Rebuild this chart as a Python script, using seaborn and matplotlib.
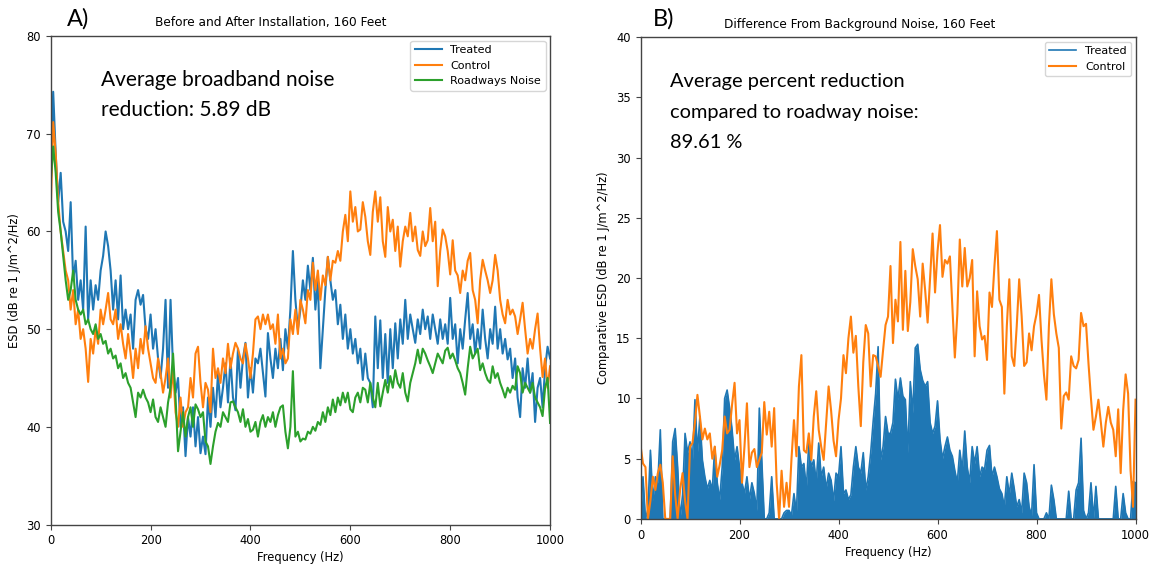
import numpy as np
import pandas as pd
import matplotlib
matplotlib.use("Agg")
import matplotlib.pyplot as plt
import seaborn as sns

# Frequency grid (Hz), 5 Hz spacing
freq = np.arange(0, 1001, 5)

# Panel A: ESD at 160 ft (dB re 1 J/m^2/Hz)
treated = [
    65, 74.3, 68, 63, 66, 61, 60, 58, 63, 55, 57, 53, 55, 52, 60.5, 51, 55, 52, 54.5, 53,
    56, 57.5, 60, 58.5, 56, 52, 55, 51, 55.5, 50, 52, 50, 51.5, 48, 53, 54, 52.5, 53.5, 50, 49,
    51.5, 48, 50, 47, 45, 48, 53, 44, 53, 46, 43.5, 45, 40, 42, 37, 41, 39, 42, 38, 41,
    37.3, 39, 37.2, 43, 40, 44, 41, 45.5, 42, 44, 46.5, 42.5, 47, 43, 41.7, 48, 44, 47, 48.6, 43,
    46, 43.5, 47, 46.5, 48, 45.5, 43.1, 49.6, 47, 45, 48, 46, 49, 45.8, 50, 48, 52, 58, 53, 50,
    52, 55, 53, 56.5, 54, 57.3, 52, 55, 46, 50, 54, 57.4, 55, 53, 54, 50.5, 52.5, 49, 51.5, 48,
    50, 47.5, 49, 46.5, 48, 44.8, 47.5, 45, 44.5, 42, 51.3, 46, 50.9, 45, 49.5, 44.5, 50, 46, 50.6, 47,
    51, 48.5, 53, 49, 51.5, 50, 48.6, 51, 49.5, 52, 50, 51.3, 49, 51.5, 50, 48.5, 51, 49, 50.5, 48.5,
    53.2, 49, 50.5, 46.5, 50, 48, 51, 53.7, 49, 50.5, 47.5, 50, 48, 52, 49, 47, 50, 48.5, 52.3, 48,
    50, 47.5, 49, 46.9, 48, 45, 47, 43, 41, 46, 44, 47, 43.5, 45.5, 40.5, 44, 45, 42, 46, 48.2,
    47,
]
control = [
    62, 71.2, 68, 63, 60, 58, 56, 55, 52, 54, 50.5, 52, 49, 50, 48, 44.6, 49, 47.5, 50, 48.5,
    52, 50.5, 52, 53.7, 51, 50.5, 52, 49, 50.5, 48.5, 47, 49.5, 47.5, 45, 48, 46, 49, 47.5, 50.3, 48,
    46.5, 45, 44.5, 47, 45.5, 43.5, 45, 47, 43, 46, 41.5, 40, 43, 40, 41.5, 42, 45, 43, 47.5, 48.2,
    44.5, 42, 44.5, 43.8, 41.5, 48, 45, 46, 44.5, 47, 45.5, 48.5, 46, 47.5, 48.6, 48, 47, 46.5, 48.5, 47,
    45, 47.5, 51, 51.3, 50, 51.5, 50.5, 51.5, 50, 50.5, 48.5, 51.5, 47, 48, 46.5, 47, 51, 49.5, 52, 49.5,
    53, 52, 50.6, 54, 53, 56.8, 54, 56, 53, 55.5, 54.5, 57.4, 55, 57, 56.8, 58, 57, 60, 61.7, 59,
    64.1, 61, 62.5, 60, 60.2, 63, 61.5, 59, 57.6, 62, 64.1, 61, 63.5, 59, 57.4, 62.5, 60, 61.2, 58, 60.5,
    56.4, 59, 60.5, 59.5, 61.9, 59, 60.5, 58.1, 57.5, 60, 58.5, 59.1, 62.4, 59, 61, 54.4, 58, 60.2, 59.5, 58,
    55.6, 59.1, 56, 55.5, 53.7, 56, 55, 57, 57.8, 54, 53, 50.6, 55, 57.1, 56, 55, 53.7, 55, 57.6, 56,
    53, 51.5, 50.6, 53, 51.5, 52, 51.3, 49.5, 51, 52.7, 50, 47.5, 49, 48, 50, 51.6, 48, 45.1, 47, 44,
    46.2,
]
roadway = [
    65, 68.7, 66, 62, 60, 57.5, 55, 53, 54, 56, 53, 52, 51.5, 52, 50.5, 51, 50, 49.5, 50.5, 49,
    49.5, 48.5, 48.8, 47.5, 48, 47, 47.3, 46, 46.5, 45, 45.5, 44.5, 44, 42.5, 41, 43.5, 43, 43.8, 43, 42.5,
    41.5, 42.8, 41, 40.5, 42, 41, 40, 42.5, 44, 47.5, 43, 37.5, 39.5, 41.5, 39, 41, 42, 40, 42.3, 41.8,
    41, 41.5, 38.5, 38, 36.2, 38, 39.5, 40.4, 40, 41.5, 41, 40.5, 42.5, 42.6, 42, 41.5, 40.5, 41.8, 40, 40.8,
    39.5, 39.7, 40.5, 39, 40.5, 41.2, 40, 41, 40.5, 41.5, 40, 41.2, 42, 42.2, 39.5, 37.8, 40, 45.7, 39, 39.5,
    38.5, 38.8, 38.7, 39.5, 39.3, 40, 39.6, 40.5, 40.2, 41.5, 40.5, 42, 41.2, 42.8, 41.5, 43, 42.2, 43.5, 42.5, 43.5,
    41.8, 41.5, 43, 43.5, 42.5, 44, 43.8, 42.5, 44.5, 43, 42, 44.5, 42.1, 43.5, 44.8, 43.5, 45.2, 44, 45.8, 44.5,
    44, 45.5, 43.5, 42.6, 44.5, 45.5, 46.5, 47.9, 46.5, 48, 47.5, 46.8, 46.2, 45.5, 46.5, 47.5, 47, 46.5, 47.8, 48.1,
    47, 47.5, 46.8, 46, 45.5, 44.5, 43.3, 46, 48.2, 47, 47.5, 48, 45.8, 46.5, 45.5, 44.8, 44.5, 46.2, 45, 45.5,
    44.5, 43.8, 43, 44, 43.5, 44.2, 43.8, 46.2, 45.5, 43.5, 44.5, 44, 43.5, 44.5, 43, 42.5, 42, 41.1, 44, 45,
    40.4,
]

# Panel B: level above roadway background (dB)
treated_diff = [
    0, 3.5, 0, 0.8, 5.7, 1.5, 3.5, 3, 7.4, 0, 0, 0, 0, 6.4, 7.5, 4.3, 0, 2, 7.1, 5.5,
    6.4, 4.9, 9.9, 5.5, 8.5, 4.9, 3.5, 2.5, 3.2, 2.4, 6, 3, 1.6, 4.3, 10, 10.7, 9.2, 7.4, 4.9, 6,
    4.3, 3, 2.1, 3.5, 1.6, 3, 2.1, 0.7, 9.2, 4.9, 0, 0, 0.5, 3.5, 0, 0, 0, 0, 0.5, 0.7,
    0.7, 0.3, 2.1, 0.5, 6, 4.3, 4.6, 2.5, 6.3, 4.3, 4.9, 3, 6.3, 3.5, 4.3, 2.5, 3.8, 3.2, 1.5, 3.8,
    3.5, 6, 2.1, 2.4, 1.6, 2, 4.3, 6, 4.3, 3.8, 5.5, 2.4, 3.5, 5.5, 8.1, 10.4, 14.3, 4.9, 6, 8.5,
    7.1, 7.1, 8, 11.6, 9.9, 11.7, 10.2, 9.9, 5.5, 11.4, 8.8, 14.2, 14.5, 12.4, 11.5, 11, 11.4, 8, 7.1, 7.7,
    9.8, 6.6, 5, 6, 6.8, 5.7, 5.2, 4, 3, 5.7, 4, 7.3, 4.3, 3, 6, 4.6, 6, 3.5, 4.3, 4.1,
    5.7, 6.1, 3.5, 4.3, 3.5, 2.5, 2.1, 1, 3.5, 2, 3.8, 2.5, 1, 1.6, 0.5, 3.8, 3, 1, 0.3, 4.5,
    0.5, 0, 0, 0, 0.5, 0, 2.8, 1.6, 0, 0, 0, 0, 0, 2.3, 0, 0, 2.4, 3, 6.7, 0.7,
    0, 0.5, 3, 0, 2.7, 0, 0, 0, 0, 0, 0, 0, 2.7, 0, 0, 2.1, 0.5, 0, 0, 3.1,
    3,
]
control_diff = [
    6.1, 4.6, 4.3, 0, 1.5, 3.5, 2.4, 3.8, 4.5, 3, 0, 0, 0, 5.2, 2, 0, 2.4, 3.8, 1.5, 0,
    6, 6.3, 8, 10.3, 8.5, 6.6, 7.5, 6.6, 7.1, 5, 6, 3.5, 4.5, 5.7, 8.5, 7.1, 7.4, 9.5, 11.3, 7.1,
    8.2, 3, 6, 9.6, 4.3, 5.5, 5.8, 4.3, 4.9, 5.5, 9.7, 7, 8.9, 6, 9.2, 3, 0, 4, 1, 3,
    1, 5, 8.2, 5.2, 11, 13.6, 5.7, 5.5, 7.1, 4.9, 8.5, 10.6, 7.4, 6, 4.9, 8, 11, 9, 6.5, 5.2,
    8.2, 10, 13.6, 12.1, 15, 16.8, 13.8, 15.2, 11, 7.7, 13, 16.1, 15.4, 11, 13.6, 13.5, 12.7, 11.8, 14, 16.1,
    16.8, 21, 14.6, 18.2, 16.4, 23, 15.7, 20.6, 15.6, 18, 22.4, 21, 19.9, 16.8, 21.2, 19, 16.3, 20, 23.7, 18.8,
    22.2, 24.4, 20.1, 21.5, 21.2, 21.8, 17.6, 13.4, 17, 23.2, 19.3, 22.5, 19.3, 20, 21.5, 13.5, 18.9, 16, 14.9, 15.2,
    13.2, 18.8, 17.6, 21, 23.9, 18.2, 17.6, 10.4, 16, 19.9, 13.5, 12.7, 16, 19.9, 16.8, 12.7, 13, 15.4, 14, 16,
    17, 18.6, 14.9, 12, 9.9, 16, 19.9, 17, 15.4, 14.2, 7.5, 10.2, 10.5, 9.9, 13.5, 12.7, 12.5, 13.2, 17.1, 16,
    16.2, 12.9, 10, 7.4, 8.5, 9.9, 8, 6, 8, 9.3, 8, 7.4, 5.2, 9.1, 3.8, 9, 12, 10.4, 4, 1,
    9.9,
]

BLUE, ORANGE, GREEN = "#1f77b4", "#ff7f0e", "#2ca02c"

df_a = pd.DataFrame({"freq": freq, "Treated": treated, "Control": control,
                     "Roadways Noise": roadway})
df_b = pd.DataFrame({"freq": freq, "Treated": treated_diff, "Control": control_diff})

plt.rcParams["font.family"] = ["DejaVu Sans"]
fig = plt.figure(figsize=(11.52, 5.64), dpi=100)
ax1 = fig.add_axes([0.044, 0.070, 0.4335, 0.866])
ax2 = fig.add_axes([0.556, 0.080, 0.4297, 0.854])

TICK_FS = 8.3
LEG_FS = 8.0
TITLE_FS = 8.7
spine_col = "#444444"

# ---- Panel A ----
for name, col in [("Treated", BLUE), ("Control", ORANGE), ("Roadways Noise", GREEN)]:
    sns.lineplot(data=df_a, x="freq", y=name, ax=ax1, color=col, label=name,
                 linewidth=1.5)
ax1.set_xlim(0, 1000)
ax1.set_ylim(30, 80)
ax1.set_xticks(range(0, 1001, 200))
ax1.set_yticks(range(30, 81, 10))
ax1.set_xlabel("Frequency (Hz)", fontsize=TICK_FS, labelpad=3)
ax1.set_ylabel("ESD (dB re 1 J/m^2/Hz)", fontsize=TICK_FS)
ax1.set_title("Before and After Installation, 160 Feet", fontsize=TITLE_FS,
              x=0.44, pad=7)
ax1.legend(loc="upper right", fontsize=LEG_FS, handlelength=2.4, borderaxespad=0.4)
ax1.text(0.1, 0.93, "Average broadband noise\nreduction: 5.89 dB",
         transform=ax1.transAxes, family="Lato", fontsize=15,
         linespacing=1.6, va="top", ha="left")

# ---- Panel B ----
ax2.fill_between(df_b["freq"], 0, df_b["Treated"], color=BLUE, linewidth=0)
sns.lineplot(data=df_b, x="freq", y="Treated", ax=ax2, color=BLUE, label="Treated",
             linewidth=1.2)
sns.lineplot(data=df_b, x="freq", y="Control", ax=ax2, color=ORANGE, label="Control",
             linewidth=1.5)
ax2.set_xlim(0, 1000)
ax2.set_ylim(0, 40)
ax2.set_xticks(range(0, 1001, 200))
ax2.set_yticks(range(0, 41, 5))
ax2.set_xlabel("Frequency (Hz)", fontsize=TICK_FS, labelpad=3)
ax2.set_ylabel("Comparative ESD (dB re 1 J/m^2/Hz)", fontsize=TICK_FS)
ax2.set_title("Difference From Background Noise, 160 Feet", fontsize=TITLE_FS,
              x=0.443, pad=7)
ax2.legend(loc="upper right", fontsize=LEG_FS, handlelength=2.4, borderaxespad=0.4)
ax2.text(0.06, 0.925, "Average percent reduction\ncompared to roadway noise:\n89.61 %",
         transform=ax2.transAxes, family="Lato", fontsize=14.4,
         linespacing=1.95, va="top", ha="left")

for ax in (ax1, ax2):
    ax.tick_params(labelsize=TICK_FS, length=3.5, color=spine_col)
    for s in ax.spines.values():
        s.set_color(spine_col)
        s.set_linewidth(1.0)

# Panel letters
fig.text(0.058, 0.966, "A)", family="Lato", fontsize=17, ha="left", va="center")
fig.text(0.567, 0.966, "B)", family="Lato", fontsize=17, ha="left", va="center")

fig.savefig("out.png", dpi=100, facecolor="white")
